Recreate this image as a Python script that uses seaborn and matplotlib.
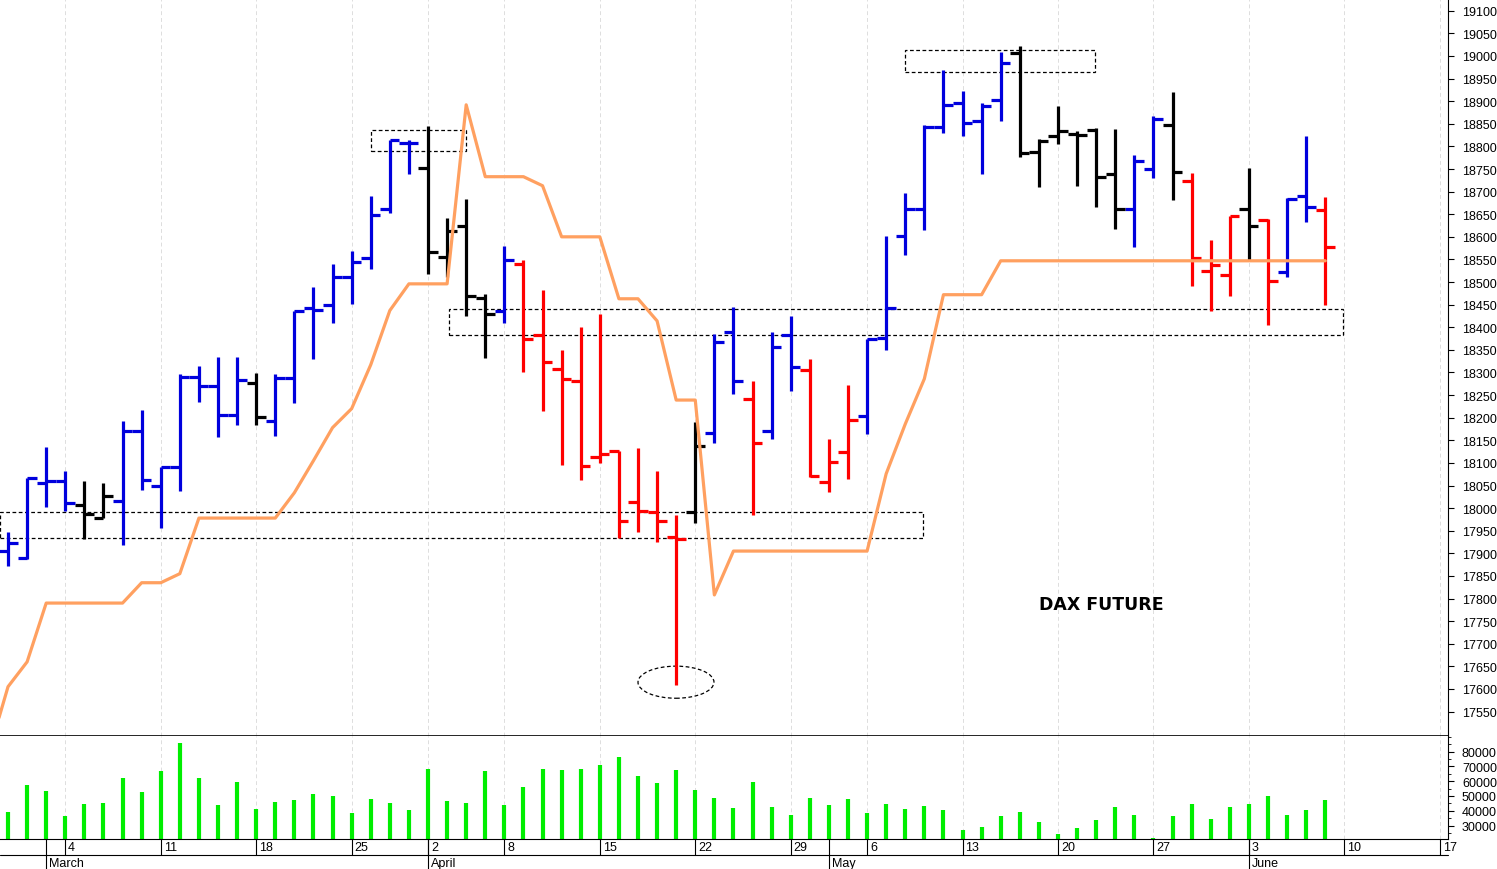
import numpy as np
import pandas as pd
import matplotlib
matplotlib.use("Agg")
import matplotlib.pyplot as plt
from matplotlib.patches import Rectangle, Ellipse
from matplotlib.transforms import blended_transform_factory
import seaborn as sns

sns.set_style("white")
plt.rcParams['font.family'] = ['Liberation Sans', 'DejaVu Sans']
plt.rcParams['text.color'] = 'black'

opens = [17906,17890,18055,18060,18007,17978,18016,18171,18048,18092,18290,18269,18205,18276,18192,18287,18442,18450,18512,18553,
         18662,18808,18752,18556,18624,18464,18436,18540,18383,18308,18282,18113,18127,18013,17991,17936,17992,18166,18389,18242,
         18171,18382,18306,18057,18125,18203,18377,18601,18662,18843,18896,18857,18903,19007,18787,18822,18828,18837,18740,18662,
         18749,18848,18723,18524,18516,18662,18638,18522,18691,18660]
highs = [17947,18067,18136,18083,18061,18056,18193,18216,18092,18297,18315,18334,18334,18299,18297,18437,18489,18539,18568,18691,
         18815,18815,18845,18642,18683,18474,18579,18549,18483,18349,18400,18430,18127,18132,18081,17985,18190,18385,18444,18281,
         18389,18424,18329,18153,18273,18374,18601,18697,18848,18970,18922,18896,19009,19023,18817,18890,18835,18841,18839,18780,
         18867,18920,18741,18594,18647,18752,18640,18686,18823,18688]
lows = [17872,17888,18003,17994,17932,17978,17919,18040,17956,18037,18235,18157,18183,18184,18159,18233,18330,18410,18452,18529,
        18653,18739,18518,18511,18425,18332,18410,18301,18214,18096,18062,18100,17933,17948,17926,17609,17967,18144,18253,17985,
        18153,18259,18068,18035,18065,18164,18349,18560,18614,18830,18822,18738,18857,18776,18711,18806,18712,18667,18618,18577,
        18731,18682,18492,18436,18470,18548,18404,18511,18632,18450]
closes = [17923,18067,18060,18011,17987,18027,18171,18063,18092,18290,18271,18205,18284,18201,18287,18437,18438,18512,18545,18649,
          18815,18808,18566,18612,18469,18430,18548,18374,18324,18286,18094,18120,17972,17993,17971,17932,18137,18367,18281,18144,
          18357,18313,18071,18102,18194,18374,18442,18662,18843,18892,18852,18890,18985,18786,18812,18835,18826,18732,18662,18768,
          18861,18743,18553,18538,18647,18625,18503,18684,18667,18577]
bar_colors = (["b"]*4 + ["k"]*2 + ["b"]*7 + ["k"] + ["b"]*8 + ["k"]*4 + ["b"] + ["r"]*9 + ["k"] + ["b"]*2 + ["r"] +
              ["b"]*2 + ["r"]*3 + ["b"]*8 + ["k"]*6 + ["b"]*2 + ["k"] + ["r"]*3 + ["k"] + ["r"] + ["b"]*2 + ["r"])
volumes = [39090,57720,53630,36360,44300,45000,62490,52720,66800,86100,62490,44090,59540,41130,45900,47270,51580,49770,38400,47950,
           45220,40680,67940,46360,45000,67030,44090,56350,67940,67490,67940,70670,76120,63400,59080,67490,54080,48860,41590,59540,
           42500,37270,48630,44090,47720,38400,44300,41130,42950,40450,27050,29320,36590,39090,32270,24320,28640,33640,42500,37040,
           21370,36360,44540,34320,42270,44540,50220,37270,40450,47270]
stop_line = [17460,17605,17660,17790,17790,17790,17790,17790,17835,17835,17855,17978,17978,17978,17978,17978,18034,18105,18178,18220,
             18317,18437,18496,18496,18496,18892,18733,18733,18733,18713,18600,18600,18600,18463,18463,18414,18239,18239,17808,17905,
             17905,17905,17905,17905,17905,17905,17905,18076,18186,18286,18472,18472,18472,18547] + [18547]*17
stop_idx = list(range(-1, 70))
week_idx = [3, 8, 13, 18, 22, 26, 31, 36, 41, 45, 50, 55, 60, 65, 70, 75]
week_lbl = ["4", "11", "18", "25", "2", "8", "15", "22", "29", "6", "13", "20", "27", "3", "10", "17"]
month_idx = [2, 22, 43, 65]
month_lbl = ["March", "April", "May", "June"]

cmap = {"b": "#0000dd", "r": "#ff0000", "k": "#000000"}
W, H = 1497, 870
fig = plt.figure(figsize=(W/100, H/100), dpi=100)
axp = fig.add_axes([0, 1-737/H, 1448/W, 737/H])
axv = fig.add_axes([0, 1-840/H, 1448/W, 103/H], sharex=axp)

xmin, xmax = -0.42, 75.43
n = len(opens)
x = np.arange(n)
cols = [cmap[c] for c in bar_colors]
axp.vlines(x, lows, highs, colors=cols, lw=2.3)
axp.hlines(opens, x-0.5, x, colors=cols, lw=2.3)
axp.hlines(closes, x, x+0.5, colors=cols, lw=2.3)
sns.lineplot(x=stop_idx, y=stop_line, ax=axp, color="#ffa060", lw=2.3)
axp.set_xlim(xmin, xmax)
axp.set_ylim(17496, 19126)

for (x0, x1, y0, y1) in [(19.02, 24.0, 18790, 18837), (23.1, 69.93, 18383, 18441),
                         (-0.42, 47.93, 17934, 17991), (46.99, 56.94, 18965, 19014)]:
    axp.add_patch(Rectangle((x0, y0), x1-x0, y1-y0, fill=False, ls=(0, (3, 2)), lw=0.9, ec="black"))
axp.add_patch(Ellipse((34.99, 17615), 3.98, 71, fill=False, ls=(0, (3, 2)), lw=0.9, ec="black"))
axp.text(57.26, 17788, "DAX FUTURE", ha="center", va="center", fontsize=12.5, fontweight="bold",
         family=["DejaVu Sans"], color="black")

axp.yaxis.tick_right()
axp.set_yticks(np.arange(17550, 19101, 50))
axp.tick_params(axis="y", labelsize=9, length=4, pad=6, direction="out", colors="black")
axp.tick_params(axis="x", bottom=False, labelbottom=False)
for s in ["left", "top"]:
    axp.spines[s].set_visible(False)
axp.spines["bottom"].set_linewidth(1.2)
axp.spines["bottom"].set_color("black")
axp.spines["right"].set_linewidth(0.8)
axp.spines["right"].set_color("black")
for wi in week_idx:
    axp.axvline(wi, color="#dddddd", ls=(0, (4, 3)), lw=0.7, zorder=0)
    axv.axvline(wi, color="#dddddd", ls=(0, (4, 3)), lw=0.7, zorder=0)

axv.vlines(x, 0, volumes, colors="#00ee00", lw=3)
axv.set_ylim(20900, 90600)
axv.yaxis.tick_right()
axv.set_yticks(np.arange(30000, 80001, 10000))
axv.set_yticks(np.arange(25000, 90001, 5000), minor=True)
axv.tick_params(axis="y", which="both", labelsize=9, length=4, pad=6, colors="black")
axv.tick_params(axis="y", which="minor", length=2)
axv.set_xticks(x, minor=True)
axv.set_xticks([])
axv.tick_params(axis="x", which="minor", length=4, direction="in", labelbottom=False)
axv.tick_params(axis="x", which="both", labelbottom=False)
for s in ["left", "top"]:
    axv.spines[s].set_visible(False)
axv.spines["right"].set_linewidth(0.8)
axv.spines["right"].set_color("black")
axv.spines["bottom"].set_color("black")

tr = blended_transform_factory(axv.transData, axv.transAxes)
for wi, lb in zip(week_idx, week_lbl):
    axv.plot([wi, wi], [0, -0.155], color="black", lw=0.8, transform=tr, clip_on=False)
    axv.text(wi + 0.15, -0.08, lb, transform=tr, ha="left", va="center", fontsize=9, clip_on=False, color="black")
axv.plot([xmin, xmax], [-0.155, -0.155], color="black", lw=0.8, transform=tr, clip_on=False)
for mi, lb in zip(month_idx, month_lbl):
    axv.plot([mi, mi], [0, -0.32], color="black", lw=0.8, transform=tr, clip_on=False)
    axv.text(mi + 0.15, -0.23, lb, transform=tr, ha="left", va="center", fontsize=9, clip_on=False, color="black")

fig.savefig("out.png", dpi=100)
